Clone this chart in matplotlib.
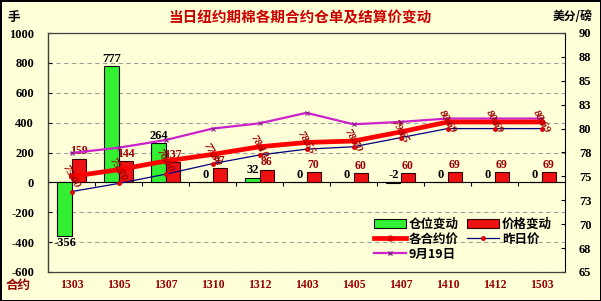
"""当日纽约期棉各期合约仓单及结算价变动 chart."""
import math

import matplotlib

matplotlib.use("Agg")
import matplotlib.pyplot as plt
from matplotlib.lines import Line2D
from matplotlib.patches import Patch
from matplotlib.ticker import FuncFormatter, MultipleLocator

plt.rcParams["font.family"] = ["Noto Sans CJK SC", "DejaVu Sans"]
plt.rcParams["axes.unicode_minus"] = False

contracts = ["1303", "1305", "1307", "1310", "1312", "1403",
             "1405", "1407", "1410", "1412", "1503"]
position_change = [-356, 777, 264, 0, 32, 0, 0, -2, 0, 0, 0]
price_change = [159, 144, 137, 97, 86, 70, 60, 60, 69, 69, 69]
contract_price = [75.00, 75.70, 76.60, 77.30, 78.10, 78.55,
                  78.70, 79.65, 80.69, 80.69, 80.69]
yesterday_price = [73.41, 74.26, 75.23, 76.33, 77.24, 77.85,
                   78.10, 79.05, 80.00, 80.00, 80.00]
sep19_price = [77.45, 78.00, 78.80, 80.00, 80.55, 81.65,
               80.45, 80.70, 81.05, 81.05, 81.05]

BG = "#FFFFD8"
DARK_RED = "#990000"
NUM_FONT = "Liberation Serif"

fig = plt.figure(figsize=(6.01, 3.01), dpi=100)
fig.patch.set_facecolor(BG)
fig.patch.set_edgecolor("black")
fig.patch.set_linewidth(2)
ax = fig.add_axes([48 / 601, 1 - 272 / 301, 517 / 601, 239 / 301])
ax.set_facecolor(BG)
ax2 = ax.twinx()

x = list(range(len(contracts)))
w = 0.3
xg = [i - w / 2 for i in x]
xr = [i + w / 2 for i in x]

ax.bar(xg, position_change, width=w, color="#33F033", edgecolor="black",
       linewidth=0.8, zorder=3)
ax.bar(xr, price_change, width=w, color="#EE1111", edgecolor="#330000",
       linewidth=0.8, zorder=3)

for xi, v in zip(xg, position_change):
    if v < -50:
        ax.text(xi, v - 12, str(v), ha="center", va="top", fontsize=9,
                fontweight="bold", family=NUM_FONT, zorder=5)
    else:
        ax.text(xi, max(v, 0) + 8, str(v), ha="center", va="bottom",
                fontsize=9, fontweight="bold", family=NUM_FONT, zorder=5)
for xi, v in zip(xr, price_change):
    ax.text(xi, v + 8, str(v), ha="center", va="bottom", fontsize=8.5,
            fontweight="bold", family=NUM_FONT, color=DARK_RED, zorder=5)

ax.set_xlim(-0.5, len(contracts) - 0.5)
ax.set_ylim(-600, 1000)
ax.yaxis.set_major_locator(MultipleLocator(200))
ax.grid(axis="y", color="#A0A0A0", linestyle=(0, (4, 3)), linewidth=0.8)
ax.set_axisbelow(True)

# category axis crosses at 0, ticks between categories
ax.spines["bottom"].set_position(("data", 0))
ax.spines["bottom"].set_color("black")
ax.set_xticks([i + 0.5 for i in x[:-1]])
ax.tick_params(axis="x", direction="out", length=3, labelbottom=False,
               color="black")
for sp in ["top", "right"]:
    ax.spines[sp].set_visible(False)
ax.spines["left"].set_color("black")
ax.tick_params(axis="y", direction="in", length=3, pad=10, labelsize=9)
for lab in ax.get_yticklabels():
    lab.set_family(NUM_FONT)
    lab.set_fontweight("bold")

for xi, name in zip(x, contracts):
    ax.text(xi, -0.055, name, transform=ax.get_xaxis_transform(),
            ha="center", va="center", fontsize=8.5, fontweight="bold",
            family=NUM_FONT, color=DARK_RED)

# price lines on right axis
ax2.plot(x, sep19_price, color="#CC22CC", linewidth=1.6, marker="x",
         markersize=3, markeredgewidth=0.8, markeredgecolor="#882288",
         zorder=4)
ax2.plot(x, yesterday_price, color="#000080", linewidth=0.9, marker="o",
         markersize=2.5, markerfacecolor="#DD0000", markeredgecolor="#DD0000",
         zorder=4)
ax2.plot(x, contract_price, color="#FF0000", linewidth=3.4, marker="o",
         markersize=3.5, markerfacecolor="#DD0000", markeredgecolor="#DD0000",
         zorder=5)
for xi, v in zip(x, contract_price):
    ax2.text(xi, v, f"{v:.2f}", rotation=-60, ha="center", va="center",
             fontsize=8, fontweight="bold", style="italic", family=NUM_FONT,
             color=DARK_RED, zorder=6, rotation_mode="anchor")

ax2.set_ylim(65, 90)
ax2.yaxis.set_major_locator(MultipleLocator(2.5))
ax2.yaxis.set_major_formatter(FuncFormatter(lambda v, p: str(math.floor(v + 0.5))))
ax2.tick_params(axis="y", direction="in", length=3, pad=10, labelsize=9)
for lab in ax2.get_yticklabels():
    lab.set_family(NUM_FONT)
    lab.set_fontweight("bold")
for sp in ["left", "bottom", "top"]:
    ax2.spines[sp].set_color("#404040")
    ax2.spines[sp].set_linewidth(0.9)
ax2.spines["right"].set_color("black")

handles = [
    Patch(facecolor="#33F033", edgecolor="black", linewidth=0.8),
    Line2D([], [], color="#FF0000", linewidth=3.4, marker="o", markersize=3.5,
           markerfacecolor="#DD0000", markeredgecolor="#DD0000"),
    Line2D([], [], color="#CC22CC", linewidth=1.6, marker="x", markersize=3,
           markeredgecolor="#882288"),
    Patch(facecolor="#EE1111", edgecolor="#330000", linewidth=0.8),
    Line2D([], [], color="#000080", linewidth=0.9, marker="o", markersize=2.5,
           markerfacecolor="#DD0000", markeredgecolor="#DD0000"),
]
labels = ["仓位变动", "各合约价", "9月19日", "价格变动", "昨日价"]
ax2.legend(handles, labels, ncol=2, loc="upper left",
           bbox_to_anchor=(0.618, 0.253), frameon=False, handlelength=2.6,
           handleheight=0.7, handletextpad=0.2, columnspacing=0.65,
           labelspacing=0.15, borderpad=0,
           prop={"size": 9, "weight": "bold"})

fig.text(0.5, 1 - 17 / 301, "当日纽约期棉各期合约仓单及结算价变动",
         ha="center", va="center", fontsize=10.5, fontweight="bold",
         color="#CC0000")
fig.text(14 / 601, 1 - 17 / 301, "手", ha="center", va="center",
         fontsize=9, fontweight="bold")
fig.text(573 / 601, 1 - 17 / 301, "美分/磅", ha="center", va="center",
         fontsize=8.5, fontweight="bold")
fig.text(18 / 601, 1 - 285 / 301, "合约", ha="center", va="center",
         fontsize=9, fontweight="bold", color=DARK_RED)

fig.savefig("out.png", dpi=100, facecolor=BG, edgecolor="black")
